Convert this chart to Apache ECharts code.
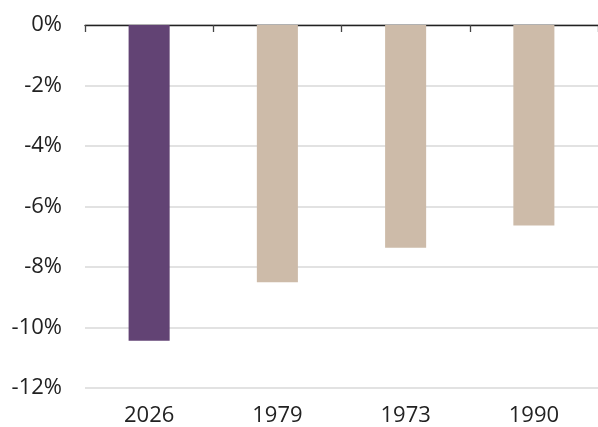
<!DOCTYPE html>
<html>
<head>
<meta charset="utf-8">
<script src="https://cdn.jsdelivr.net/npm/echarts@6/dist/echarts.min.js"></script>
<style>html,body{margin:0;padding:0;background:#fff}#c{width:598px;height:427px}</style>
</head>
<body>
<div id="c"></div>
<script>
const categories = ['2026', '1979', '1973', '1990'];
const values = [-10.44, -8.5, -7.36, -6.63];
const barColors = ['#624374', '#cdbba9', '#cdbba9', '#cdbba9'];
const yTicks = [0, -2, -4, -6, -8, -10, -12];

const chart = echarts.init(document.getElementById('c'), null, {renderer: 'canvas'});
const font = '"Open Sans", "Noto Sans", sans-serif';
chart.setOption({
  animation: false,
  grid: {left: 85, width: 516, top: 25, bottom: 38, containLabel: false},
  xAxis: [{
    type: 'category', data: categories, position: 'top',
    axisLine: {show: true, lineStyle: {color: '#222', width: 1.3}},
    axisTick: {show: true, inside: true, length: 7, lineStyle: {color: '#444', width: 1.3}},
    axisLabel: {show: false}, splitLine: {show: false}
  }, {
    type: 'category', data: categories, position: 'bottom',
    axisLine: {show: false}, axisTick: {show: false},
    axisLabel: {show: true, fontSize: 22, color: '#222', fontFamily: font, margin: 17}
  }],
  yAxis: {
    type: 'value', min: -12, max: 0, interval: 2,
    axisLine: {show: false}, axisTick: {show: false},
    axisLabel: {fontSize: 22, color: '#222', fontFamily: font, margin: 23,
      formatter: v => yTicks.includes(v) ? v + '%' : ''},
    splitLine: {show: true, lineStyle: {color: '#d9d9d9', width: 1.5}}
  },
  series: [{
    type: 'bar', xAxisIndex: 0,
    data: values.map((v, i) => ({value: v, itemStyle: {color: barColors[i]}})),
    barWidth: '32%', z: 1
  }]
});
</script>
</body>
</html>
